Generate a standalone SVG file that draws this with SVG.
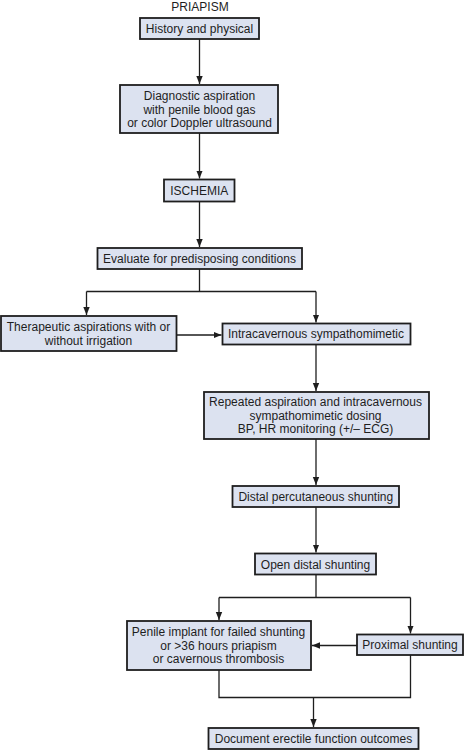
<svg xmlns="http://www.w3.org/2000/svg" width="464" height="750" viewBox="0 0 464 750">
<style>
.box{fill:#dce2f0;stroke:#1e1e1e;stroke-width:1.8}
.t{font-family:"Liberation Sans",Arial,sans-serif;font-size:12px;fill:#1e1e1e;text-anchor:middle}
.c{fill:none;stroke:#1e1e1e;stroke-width:1.3}
</style>
<defs>
<marker id="ah" markerUnits="userSpaceOnUse" markerWidth="8" markerHeight="8" viewBox="0 0 8 8" refX="8" refY="4" orient="auto">
<path d="M0,0.8 L8,4 L0,7.2 Z" fill="#1e1e1e"/>
</marker>
</defs>
<rect width="464" height="750" fill="#fff"/>
<text class="t" x="200" y="10.5">PRIAPISM</text>
<g id="connectors">
<path class="c" d="M199.5,39 V84" marker-end="url(#ah)"/>
<path class="c" d="M199.5,133 V178.5" marker-end="url(#ah)"/>
<path class="c" d="M199.5,201.5 V247" marker-end="url(#ah)"/>
<path class="c" d="M199.5,269 V291.5 M86.5,291.5 H316"/>
<path class="c" d="M86.5,291.5 V315" marker-end="url(#ah)"/>
<path class="c" d="M316,291.5 V322.5" marker-end="url(#ah)"/>
<path class="c" d="M176.5,335 H221.5" marker-end="url(#ah)"/>
<path class="c" d="M316,344.5 V391" marker-end="url(#ah)"/>
<path class="c" d="M316,439 V485" marker-end="url(#ah)"/>
<path class="c" d="M316,507 V552.5" marker-end="url(#ah)"/>
<path class="c" d="M316,574.5 V597.5 M219,597.5 H410.5"/>
<path class="c" d="M219,597.5 V620" marker-end="url(#ah)"/>
<path class="c" d="M410.5,597.5 V633.5" marker-end="url(#ah)"/>
<path class="c" d="M357,645.5 H312" marker-end="url(#ah)"/>
<path class="c" d="M219,670 V697.5 H410.5 V655"/>
<path class="c" d="M313.5,697.5 V727" marker-end="url(#ah)"/>
</g>
<g id="n1"><rect class="box" x="140" y="18" width="119" height="21"/><text class="t" x="199.5" y="33">History and physical</text></g>
<g id="n2"><rect class="box" x="120" y="85" width="158" height="48"/><text class="t" x="199.5" y="100">Diagnostic aspiration</text><text class="t" x="199.5" y="113.5">with penile blood gas</text><text class="t" x="199.5" y="127">or color Doppler ultrasound</text></g>
<g id="n3"><rect class="box" x="164" y="179.5" width="70.5" height="22"/><text class="t" x="199.3" y="195">ISCHEMIA</text></g>
<g id="n4"><rect class="box" x="97.5" y="248" width="204.5" height="21"/><text class="t" x="199.5" y="263">Evaluate for predisposing conditions</text></g>
<g id="n5"><rect class="box" x="1" y="316" width="175.5" height="35"/><text class="t" x="88.5" y="331">Therapeutic aspirations with or</text><text class="t" x="88.5" y="344.5">without irrigation</text></g>
<g id="n6"><rect class="box" x="222.5" y="323.5" width="188" height="21"/><text class="t" x="316" y="338">Intracavernous sympathomimetic</text></g>
<g id="n7"><rect class="box" x="204" y="392" width="225" height="47"/><text class="t" x="315.5" y="406">Repeated aspiration and intracavernous</text><text class="t" x="315.5" y="419.5">sympathomimetic dosing</text><text class="t" x="315.5" y="433">BP, HR monitoring (+/– ECG)</text></g>
<g id="n8"><rect class="box" x="232.5" y="486" width="166.5" height="21"/><text class="t" x="315.8" y="501">Distal percutaneous shunting</text></g>
<g id="n9"><rect class="box" x="255" y="553.5" width="121" height="21"/><text class="t" x="315.5" y="569">Open distal shunting</text></g>
<g id="n10"><rect class="box" x="127" y="621" width="184" height="49"/><text class="t" x="218.5" y="636">Penile implant for failed shunting</text><text class="t" x="218.5" y="649.5">or &gt;36 hours priapism</text><text class="t" x="218.5" y="663">or cavernous thrombosis</text></g>
<g id="n11"><rect class="box" x="357" y="634.5" width="106" height="20.5"/><text class="t" x="410" y="649">Proximal shunting</text></g>
<g id="n12"><rect class="box" x="208.5" y="728" width="210" height="21"/><text class="t" x="313.5" y="743">Document erectile function outcomes</text></g>
</svg>
